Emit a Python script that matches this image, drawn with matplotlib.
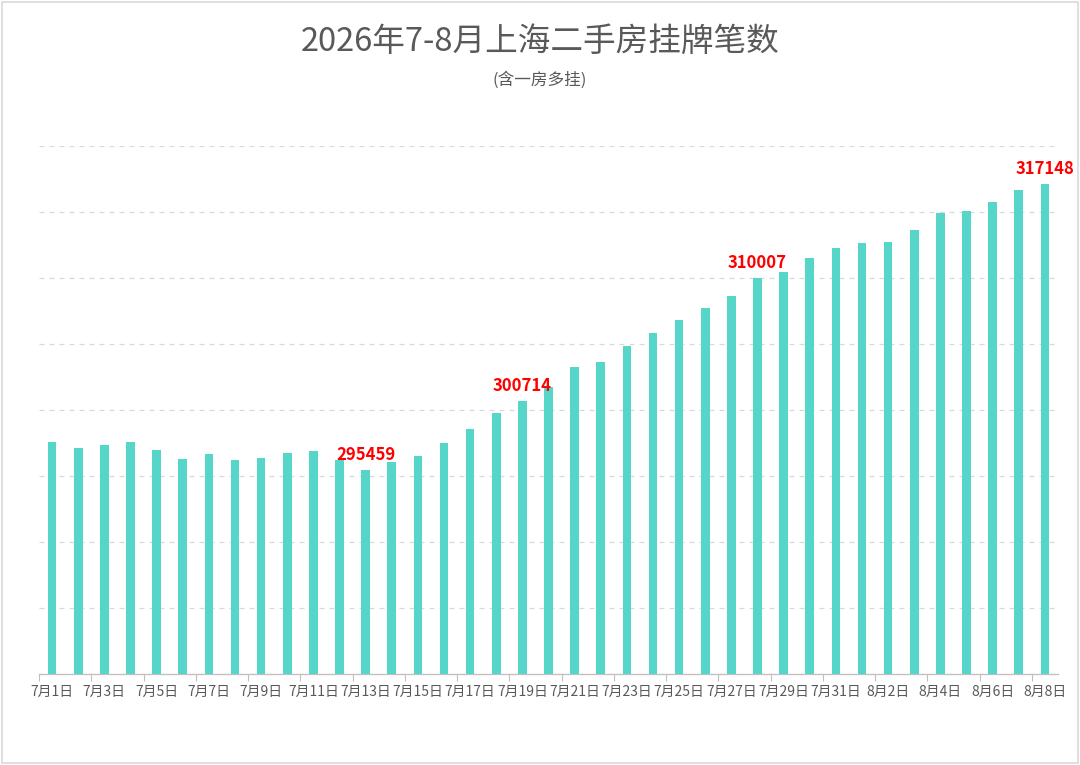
import matplotlib
matplotlib.use('Agg')
import matplotlib.pyplot as plt
from matplotlib.patches import Rectangle

plt.rcParams['font.family'] = ['Noto Sans CJK SC', 'DejaVu Sans']

# 7月1日 .. 8月8日
dates = [f'7月{d}日' for d in range(1, 32)] + [f'8月{d}日' for d in range(1, 9)]
listings = [297549, 297147, 297352, 297602, 296972, 296289, 296691, 296183,
            296335, 296714, 296919, 296183, 295459, 296031, 296540, 297503,
            298588, 299779, 300714, 301752, 303269, 303649, 304833, 305849,
            306835, 307693, 308626, 310007, 310447, 311486, 312298, 312624,
            312723, 313633, 314924, 315075, 315758, 316668, 317148]
labelled = ['7月13日', '7月19日', '7月28日', '8月8日']

title = '2026年7-8月上海二手房挂牌笔数'
subtitle = '(含一房多挂)'

fig = plt.figure(figsize=(10.8, 7.65), dpi=100)
ax = fig.add_axes([39/1080, 1 - 674/765, 1019/1080, 528/765])

x = list(range(len(dates)))
ax.bar(x, listings, width=0.33, color='#56d5c9', zorder=3)

ax.set_xlim(-0.5, len(dates) - 0.5)
ax.set_ylim(280000, 320000)
ax.set_yticks(range(280000, 320001, 5000))
ax.yaxis.grid(True, linestyle=(0, (4, 4)), color='#d9d9d9', linewidth=0.9, zorder=0)
ax.tick_params(axis='y', length=0, labelleft=False)

ax.set_xticks(x[::2])
ax.set_xticklabels(dates[::2], fontsize=10, color='#595959')
ax.set_xticks([i - 0.5 for i in range(0, len(dates) + 1, 2)], minor=True)
ax.tick_params(axis='x', which='major', length=0, pad=8)
ax.tick_params(axis='x', which='minor', length=5, color='#bfbfbf', width=0.8)

for s in ['top', 'right', 'left']:
    ax.spines[s].set_visible(False)
ax.spines['bottom'].set_color('#bfbfbf')
ax.spines['bottom'].set_linewidth(0.9)

for d in labelled:
    i = dates.index(d)
    ax.annotate(f'{listings[i]}', (i, listings[i]), xytext=(0, 4),
                textcoords='offset points', ha='center', va='bottom',
                fontsize=12, fontweight='bold', color='#ff0000',
                annotation_clip=False)

fig.text(0.5, 1 - 42/765, title, ha='center', va='center', fontsize=23.5, color='#595959')
fig.text(0.5, 1 - 80/765, subtitle, ha='center', va='center', fontsize=12, color='#595959')

fig.patches.append(Rectangle((0.002, 0.002), 0.996, 0.996, transform=fig.transFigure,
                             fill=False, edgecolor='#d9d9d9', linewidth=1.2))

fig.savefig('out.png', dpi=100)
